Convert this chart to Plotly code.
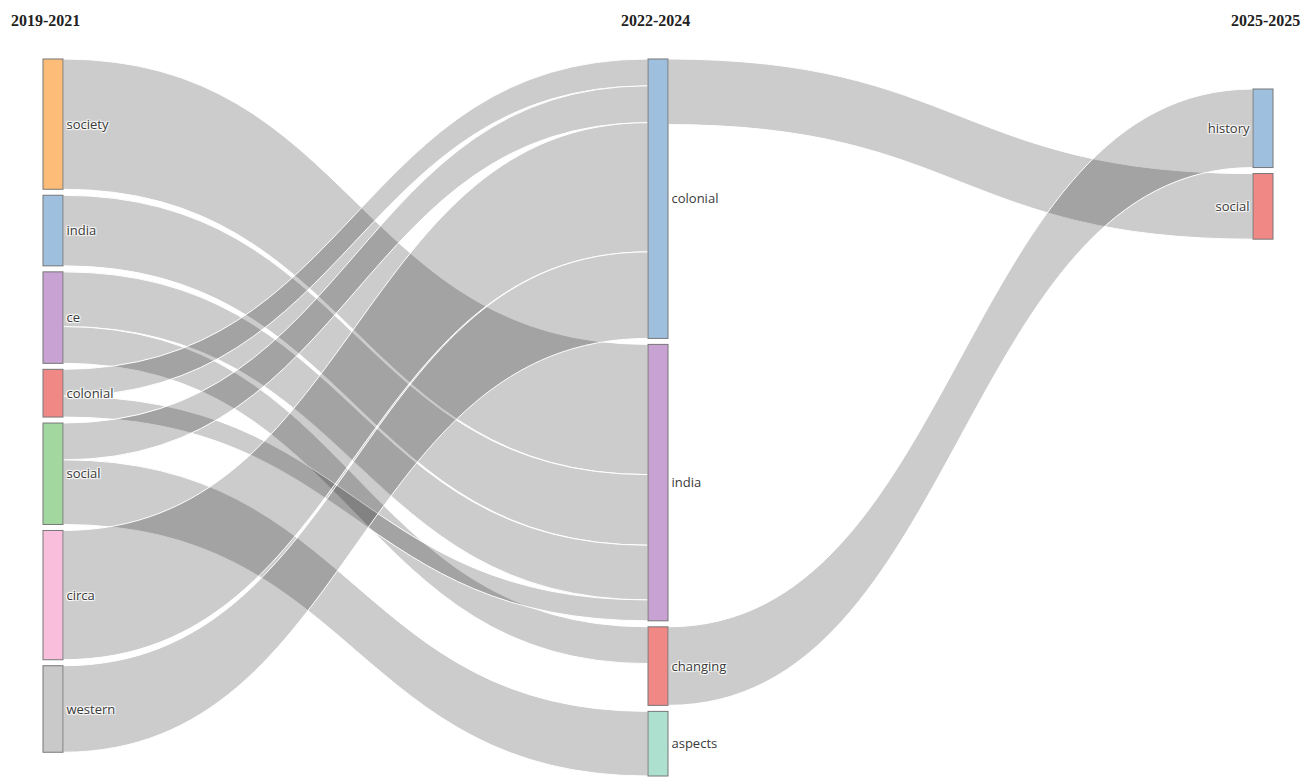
import plotly.graph_objects as go

# period columns
periods = ["2019-2021", "2022-2024", "2025-2025"]

# nodes, listed column by column (top to bottom)
node_labels = [
    "society", "india", "ce", "colonial", "social", "circa", "western",
    "colonial", "india", "changing", "aspects",
    "history", "social",
]
node_period = [0, 0, 0, 0, 0, 0, 0, 1, 1, 1, 1, 2, 2]
node_colors = [
    "#fdbd79", "#9ec0de", "#c8a2d2", "#f08886", "#a2d8a0", "#f8bedc", "#c9c9c9",
    "#9ec0de", "#c8a2d2", "#f08886", "#aee0d0",
    "#9ec0de", "#f08886",
]

# links (source index, target index, value)
link_source = [0, 1, 2, 2, 3, 3, 4, 4, 5, 6, 7, 9]
link_target = [8, 8, 8, 9, 7, 8, 7, 10, 7, 7, 12, 11]
link_value = [131, 71, 55, 37, 27, 21, 37, 65, 130, 87, 66, 79]

# figure geometry (the page body adds an 8px margin around the plot div)
body_margin = 8
W, H = 1312 - body_margin, 777 - body_margin
margin = dict(l=43 - body_margin, r=39, t=59 - body_margin, b=1)
node_thickness = 20
node_pad = 6
right_column_drop = 30  # last column sits a little lower

plot_w = W - margin["l"] - margin["r"]
plot_h = H - margin["t"] - margin["b"]

# node values = max(in, out), like plotly does
n = len(node_labels)
inflow = [0.0] * n
outflow = [0.0] * n
for s, t, v in zip(link_source, link_target, link_value):
    outflow[s] += v
    inflow[t] += v
node_value = [max(a, b) for a, b in zip(inflow, outflow)]

n_cols = len(periods)
columns = [[i for i in range(n) if node_period[i] == c] for c in range(n_cols)]
ky = min(
    (plot_h - (len(col) - 1) * node_pad) / sum(node_value[i] for i in col)
    for col in columns
)

node_x = [0.0] * n
node_y = [0.0] * n
for c, col in enumerate(columns):
    cx = c * (plot_w - node_thickness) / (n_cols - 1) + node_thickness / 2
    y = right_column_drop if c == n_cols - 1 else 0
    for i in col:
        h = node_value[i] * ky
        node_x[i] = cx / plot_w
        node_y[i] = (y + h / 2) / plot_h
        y += h + node_pad

fig = go.Figure(
    go.Sankey(
        arrangement="fixed",
        domain=dict(x=[0, 1], y=[0, 1]),
        node=dict(
            label=node_labels,
            color=node_colors,
            x=node_x,
            y=node_y,
            pad=node_pad,
            thickness=node_thickness,
            align="left",
            line=dict(color="#777", width=1),
        ),
        link=dict(
            source=link_source,
            target=link_target,
            value=link_value,
            color="rgba(0,0,0,0.2)",
            line=dict(color="white", width=1),
        ),
        textfont=dict(family="Open Sans", size=13, color="#3a3a3a"),
    )
)

# period titles: from the left edge of the first column to the centre of the last
title_span = (plot_w - node_thickness / 2) / plot_w
for c, name in enumerate(periods):
    fig.add_annotation(
        text=f"<b>{name}</b>",
        xref="paper", yref="paper",
        x=c / (n_cols - 1) * title_span, y=1,
        xanchor="center", yanchor="bottom",
        xshift=2, yshift=28,
        showarrow=False,
        font=dict(family="Liberation Serif", size=16, color="#222"),
    )

fig.update_layout(
    width=W, height=H,
    margin=margin,
    paper_bgcolor="white",
    plot_bgcolor="white",
)

fig.write_html("out.html")
